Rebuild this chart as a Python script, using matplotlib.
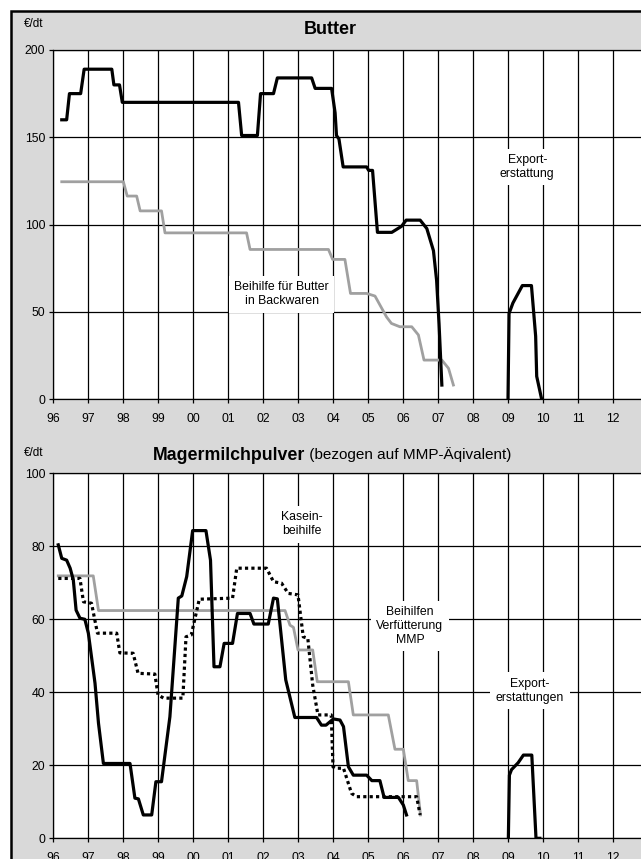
import matplotlib
matplotlib.use('Agg')
from matplotlib import pyplot as plt
from matplotlib.patches import Rectangle

plt.rcParams['font.family'] = ['Liberation Sans', 'DejaVu Sans']

# ---- Butter (EUR/dt) ----
butter_exp_x = [1996.25, 1996.39, 1996.47, 1996.79, 1996.89, 1997.68, 1997.74, 1997.90, 1997.98,
                2001.30, 2001.39, 2001.84, 2001.93, 2002.30, 2002.41, 2003.39, 2003.49, 2003.96,
                2004.06, 2004.10, 2004.17, 2004.29, 2004.96, 2005.02, 2005.13, 2005.27, 2005.68,
                2005.96, 2006.09, 2006.49, 2006.68, 2006.87, 2006.96, 2007.03, 2007.11]
butter_exp_y = [160, 160, 175, 175, 189, 189, 180, 180, 170,
                170, 151, 151, 175, 175, 184, 184, 178, 178,
                164, 151, 149, 133, 133, 131, 131, 95.5, 95.5,
                99, 102.5, 102.5, 97.7, 85, 68, 43, 8]
butter_exp09_x = [2009.00, 2009.03, 2009.14, 2009.41, 2009.67, 2009.79, 2009.82, 2009.96]
butter_exp09_y = [0, 49, 55, 65, 65, 36, 13, 0]
butter_bak_x = [1996.25, 1998.01, 1998.12, 1998.39, 1998.49, 1999.10, 1999.20, 2001.53, 2001.63,
                2003.87, 2003.99, 2004.34, 2004.50, 2004.96, 2005.20, 2005.53, 2005.67, 2005.91,
                2006.25, 2006.44, 2006.60, 2007.11, 2007.30, 2007.44]
butter_bak_y = [124.5, 124.5, 116.3, 116.3, 107.8, 107.8, 95.2, 95.2, 85.7,
                85.7, 80, 80, 60.5, 60.5, 59, 47, 43.3, 41.4,
                41.4, 36.7, 22.3, 22.3, 17.6, 8]

# ---- Magermilchpulver (EUR/dt) ----
mmp_exp_x = [1996.15, 1996.25, 1996.39, 1996.49, 1996.58, 1996.66, 1996.77, 1996.91,
             1997.01, 1997.20, 1997.30, 1997.44, 1998.20, 1998.34, 1998.44, 1998.58, 1998.82, 1998.94,
             1999.10, 1999.34, 1999.58, 1999.68, 1999.82, 1999.99, 2000.37, 2000.50, 2000.60, 2000.77,
             2000.89, 2001.13, 2001.27, 2001.63, 2001.74, 2002.15, 2002.30, 2002.41, 2002.65, 2002.91,
             2003.53, 2003.67, 2003.80, 2004.01, 2004.20, 2004.30, 2004.44, 2004.58, 2004.96,
             2005.11, 2005.34, 2005.46, 2005.87, 2006.01, 2006.10]
mmp_exp_y = [80.4, 76.7, 76.2, 74, 70.8, 62.5, 60.3, 60,
             56.2, 42.5, 31.5, 20.5, 20.5, 11, 10.8, 6.4, 6.4, 15.5,
             15.5, 33.3, 65.8, 66.4, 71.7, 84.3, 84.3, 76.2, 47, 47,
             53.4, 53.4, 61.6, 61.6, 58.7, 58.7, 65.8, 65.6, 43.4, 33.1,
             33.1, 31, 31, 32.7, 32.4, 30.6, 19.6, 17.3, 17.3,
             15.8, 15.8, 11.2, 11.2, 9.1, 6.4]
mmp_exp09_x = [2009.01, 2009.04, 2009.10, 2009.29, 2009.44, 2009.68, 2009.74, 2009.80, 2009.91]
mmp_exp09_y = [0, 17.3, 18.8, 20.7, 22.8, 22.8, 11.4, 0, 0]
kasein_x = [1996.15, 1996.77, 1996.87, 1997.10, 1997.27, 1997.82, 1997.91, 1998.29, 1998.43, 1998.91,
            1999.00, 1999.16, 1999.71, 1999.80, 1999.95, 2000.18, 2001.13, 2001.25, 2002.10, 2002.30,
            2002.53, 2002.72, 2003.00, 2003.15, 2003.28, 2003.42, 2003.57, 2003.95, 2004.00, 2004.06,
            2004.30, 2004.53, 2004.68, 2006.39, 2006.49]
kasein_y = [71.2, 71.2, 64.8, 64.4, 56.2, 56.2, 50.8, 50.7, 45.2, 45,
            39.3, 38.4, 38.4, 55.2, 55.7, 65.5, 65.8, 74, 74, 70.3,
            69.9, 67.1, 66.7, 55.2, 54.8, 42, 33.8, 33.8, 19.6, 19.2,
            19.2, 12.3, 11.4, 11.4, 6.4]
feed_x = [1996.15, 1997.15, 1997.30, 2002.63, 2002.77, 2002.87, 2003.00, 2003.42, 2003.55,
          2004.44, 2004.58, 2005.58, 2005.77, 2006.01, 2006.15, 2006.39, 2006.50]
feed_y = [71.9, 71.9, 62.4, 62.4, 58.4, 57.8, 51.6, 51.6, 42.9,
          42.9, 33.8, 33.8, 24.4, 24.4, 15.8, 15.8, 6.4]

years = list(range(1996, 2013))
year_labels = ['%02d' % (y % 100) for y in years]

W, H = 641, 859
fig = plt.figure(figsize=(W / 100, H / 100), dpi=100)
fig.patch.set_facecolor('white')
fig.patches.append(Rectangle((11 / W, -0.1), 1.2, 1 - 11 / H + 0.1, transform=fig.transFigure,
                             facecolor='#d9d9d9', edgecolor='black', lw=1.8, zorder=-10))

BLACK_LW = 2.3
GRAY = '#a0a0a0'


def setup(ax, ymax, ystep):
    ax.set_facecolor('white')
    ax.set_xlim(1996, 2013)
    ax.set_ylim(0, ymax)
    ax.set_xticks(years)
    ax.set_xticklabels(year_labels)
    ax.set_yticks(range(0, ymax + 1, ystep))
    ax.grid(True, color='black', lw=0.9)
    ax.set_axisbelow(True)
    for s in ax.spines.values():
        s.set_color('black')
        s.set_linewidth(0.9)
    ax.tick_params(axis='both', labelsize=8.8, length=3, width=0.9, color='black')
    ax.tick_params(axis='x', pad=7)
    ax.tick_params(axis='y', pad=2.5)


def label(ax, x, y, s):
    ax.text(x, y, s, ha='center', va='center', fontsize=8.8, linespacing=1.2,
            bbox=dict(facecolor='white', edgecolor='none', pad=4), zorder=5)


# top panel
ax1 = fig.add_axes([53 / W, 1 - 399 / H, (648 - 53) / W, 349 / H])
setup(ax1, 200, 50)
ax1.plot(butter_bak_x, butter_bak_y, color=GRAY, lw=2.0, zorder=3)
ax1.plot(butter_exp_x, butter_exp_y, color='black', lw=BLACK_LW, zorder=4)
ax1.plot(butter_exp09_x, butter_exp09_y, color='black', lw=BLACK_LW, zorder=4)
label(ax1, 2009.55, 133, 'Export-\nerstattung')
label(ax1, 2002.53, 60, 'Beihilfe für Butter\nin Backwaren')

fig.text(330 / W, 1 - 30 / H, 'Butter', ha='center', va='center', fontsize=13, fontweight='bold')
fig.text(24 / W, 1 - 24 / H, '€/dt', ha='left', va='center', fontsize=8.5)

# bottom panel
ax2 = fig.add_axes([53 / W, 1 - 838.3 / H, (648 - 53) / W, 365 / H])
setup(ax2, 100, 20)
ax2.plot(feed_x, feed_y, color=GRAY, lw=2.0, zorder=3)
ax2.plot(kasein_x, kasein_y, color='black', lw=BLACK_LW, ls=(0, (1, 1)), zorder=3)
ax2.plot(mmp_exp_x, mmp_exp_y, color='black', lw=BLACK_LW, zorder=4)
ax2.plot(mmp_exp09_x, mmp_exp09_y, color='black', lw=BLACK_LW, zorder=4)
label(ax2, 2003.1, 86, 'Kasein-\nbeihilfe')
label(ax2, 2006.2, 58.2, 'Beihilfen\nVerfütterung\nMMP')
label(ax2, 2009.63, 40.4, 'Export-\nerstattungen')

t = fig.text(153 / W, 1 - 455 / H, 'Magermilchpulver', ha='left', va='center', fontsize=12.8,
             fontweight='bold')
fig.canvas.draw()
bb = t.get_window_extent()
fig.text(bb.x1 / W, 1 - 455 / H, ' (bezogen auf MMP-Äqivalent)', ha='left', va='center',
         fontsize=11)
fig.text(24 / W, 1 - 453 / H, '€/dt', ha='left', va='center', fontsize=8.5)

plt.savefig('out.png', dpi=100)
